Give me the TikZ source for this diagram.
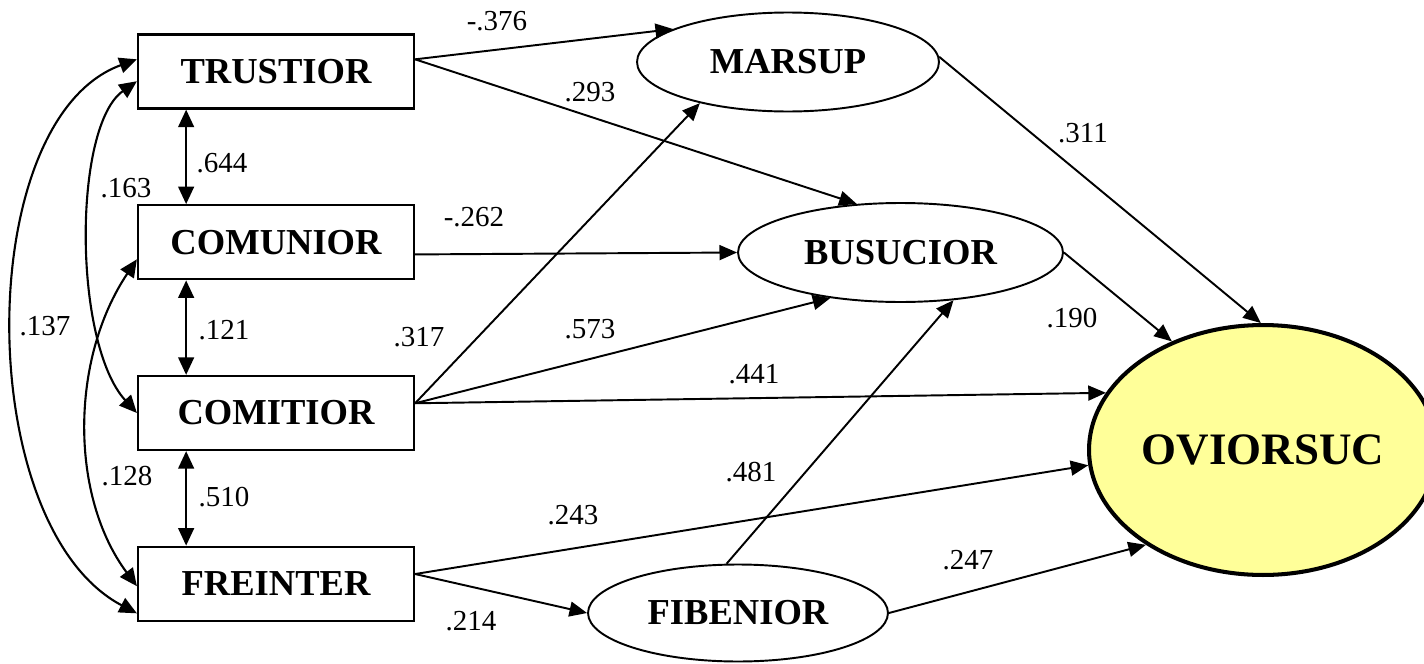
\documentclass[tikz,border=0pt]{standalone}
\usepackage{fontspec}
\setmainfont{Liberation Serif}
\usetikzlibrary{arrows.meta,positioning,shapes.geometric}
\definecolor{oviyellow}{RGB}{255,255,153}

\begin{document}
\begin{tikzpicture}[
    x=0.02cm, y=-0.02cm,
    node distance=1.89cm,
    obs/.style={
        draw=black,
        line width=1.3pt,
        minimum width=5.52cm,
        minimum height=1.48cm,
        inner sep=0pt,
        font=\fontsize{20.8}{24}\selectfont\bfseries
    },
    lat/.style={
        draw=black,
        ellipse,
        line width=1.1pt,
        inner sep=0pt,
        font=\fontsize{20.8}{24}\selectfont\bfseries
    },
    coef/.style={inner sep=0pt, font=\fontsize{16.5}{19}\selectfont},
    arrow/.style={-{Triangle[length=10pt,width=8.5pt]}, line width=1.1pt},
    corr/.style={{Triangle[length=10pt,width=9pt]}-{Triangle[length=10pt,width=9pt]}, line width=1.2pt}
]
\useasboundingbox (0,0) rectangle (1424,663);

\node[obs] (trust) at (276,71.5) {TRUSTIOR};
\node[obs, below=of trust] (comun) {COMUNIOR};
\node[obs, below=of comun] (comit) {COMITIOR};
\node[obs, below=of comit] (frein) {FREINTER};

\node[lat, minimum width=6.04cm, minimum height=1.98cm] (marsup) at (788,62) {MARSUP};
\node[lat, minimum width=6.5cm, minimum height=1.98cm] (busu) at (900.5,252.5) {BUSUCIOR};
\node[lat, minimum width=6.0cm, minimum height=1.94cm] (fiben) at (738,613) {FIBENIOR};
\node[lat, line width=2.3pt, fill=oviyellow, minimum width=6.96cm, minimum height=5cm,
    font=\fontsize{25.6}{30}\selectfont\bfseries] (ovi) at (1263,450) {OVIORSUC};

\draw[corr] (trust.-157.2) -- (comun.157.2);
\draw[corr] (comun.-157.2) -- (comit.157.2);
\draw[corr] (comit.-157.2) -- (frein.157.2);

\draw[corr] (trust.175.2) .. controls +(-165,60) and +(-165,-87) .. (frein.192.3);
\draw[corr] (trust.184.4) .. controls +(-64,45) and +(-64,-70) .. (comit.west);
\draw[corr] (comun.187.8) .. controls +(-67,100) and +(-67,-90) .. (frein.181.2);

\draw[arrow] (trust.5.2) -- (marsup.164.5);
\draw[arrow] (trust.5.2) -- (busu.132);
\draw[arrow] (comun.-5) -- (busu.west);
\draw[arrow] (comit.4.8) -- (marsup.205.7);
\draw[arrow] (comit.4.8) -- (busu.213);
\draw[arrow] (comit.4.8) -- (ovi.160.8);
\draw[arrow] (frein.4.6) -- (ovi.185.9);
\draw[arrow] (frein.4.6) -- (fiben.west);
\draw[arrow] (fiben.103) -- (busu.318);
\draw[arrow] (fiben.east) -- (ovi.219.5);
\draw[arrow] (busu.east) -- (ovi.130.8);
\draw[arrow] (marsup.2) -- (ovi.91);

\node[coef] (tm) at (497,21) {-.376};
\node[coef] (tb) at (590,92) {.293};
\node[coef] (cb) at (474,217) {-.262};
\node[coef] (tc) at (222,163) {.644};
\node[coef] (tci) at (126,188) {.163};
\node[coef] (tf) at (45,326) {.137};
\node[coef] (cf) at (127,476) {.128};
\node[coef] (cc) at (224,330) {.121};
\node[coef] (cif) at (224,497) {.510};
\node[coef] (cim) at (419,337) {.317};
\node[coef] (cib) at (590,329) {.573};
\node[coef] (cio) at (754,374) {.441};
\node[coef] (mo) at (1083,133) {.311};
\node[coef] (bo) at (1072,318) {.190};
\node[coef] (fb) at (751,472) {.481};
\node[coef] (fo) at (968,560) {.247};
\node[coef] (fro) at (573,515) {.243};
\node[coef] (frf) at (471,621) {.214};

\end{tikzpicture}
\end{document}
